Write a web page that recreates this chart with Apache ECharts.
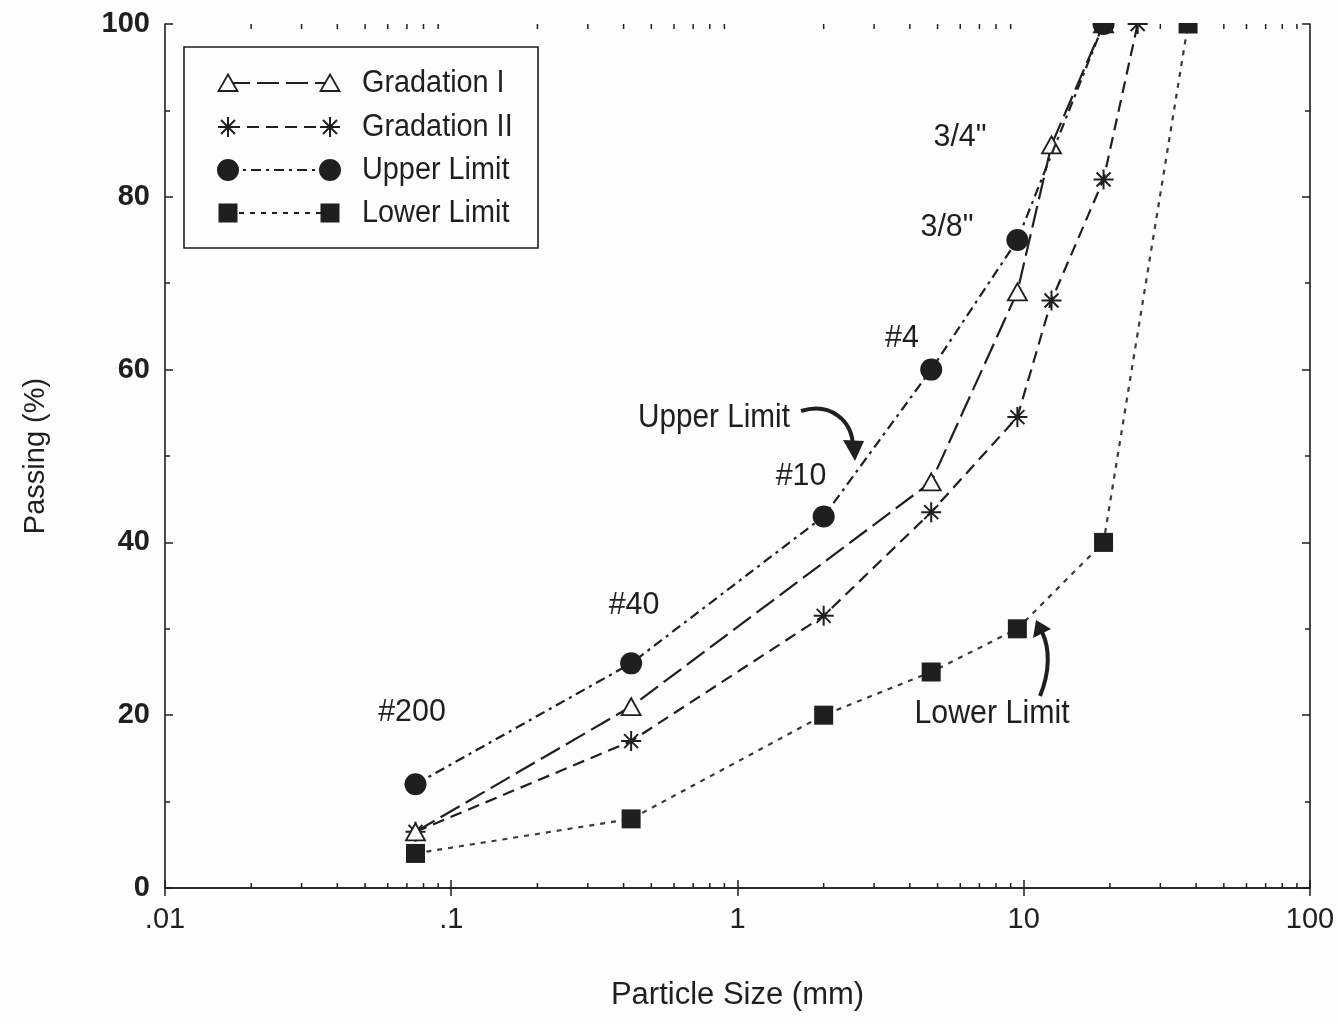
<!DOCTYPE html>
<html>
<head>
<meta charset="utf-8">
<title>Gradation Curves</title>
<script src="https://cdn.jsdelivr.net/npm/echarts@6/dist/echarts.min.js"></script>
<style>
  html, body { margin: 0; padding: 0; background: #fdfdfb; }
  #chart { width: 1338px; height: 1023px; }
</style>
</head>
<body>
<div id="chart"></div>
<script>
// Sieve sizes (mm) and percent passing for each curve
const gradIx = [0.075, 0.425, 4.75, 9.5, 12.5, 19];
const gradIy = [6.5, 21, 47, 69, 86, 100];

const gradIIx = [0.075, 0.425, 2, 4.75, 9.5, 12.5, 19, 25];
const gradIIy = [6.5, 17, 31.5, 43.5, 54.5, 68, 82, 100];

const upperX = [0.075, 0.425, 2, 4.75, 9.5, 19];
const upperY = [12, 26, 43, 60, 75, 100];

const lowerX = [0.075, 0.425, 2, 4.75, 9.5, 19, 37.5];
const lowerY = [4, 8, 20, 25, 30, 40, 100];

// Legend / series names
const seriesNames = ['Gradation I', 'Gradation II', 'Upper Limit', 'Lower Limit'];

// Sieve designations written beside the upper limit curve
const sieveLabels = ['#200', '#40', '#10', '#4', '3/8"', '3/4"'];

// Axis tick labels
const xTickLabels = { 0.01: '.01', 0.1: '.1', 1: '1', 10: '10', 100: '100' };

const FONT = '"Liberation Sans Narrow", "Liberation Sans", Arial, sans-serif';
const INK = '#1f1f1f';
const PAPER = '#fdfdfb';

const dashI = [22, 7];
const dashII = [12, 7];
const dashUpper = [10, 5, 3, 5];
const dashLower = [5, 6];
const asteriskPath = 'path://M10,0L10,20M0,10L20,10M3,3L17,17M3,17L17,3';

const pairs = (xs, ys) => xs.map((x, i) => [x, ys[i]]);

// Minor log ticks 2..9 in each decade
const minorTickValues = [];
[0.01, 0.1, 1, 10].forEach(d => {
  for (let k = 2; k <= 9; k++) minorTickValues.push([+(d * k).toPrecision(6), 0]);
});

const chart = echarts.init(document.getElementById('chart'), null, { renderer: 'canvas' });

const logAxisBase = {
  type: 'log', logBase: 10, min: 0.01, max: 100,
  axisLine: { show: true, lineStyle: { color: INK, width: 1.6 } },
  axisTick: { show: true, inside: true, length: 8, lineStyle: { color: INK, width: 1.5 } },
  splitLine: { show: false }
};
const valAxisBase = {
  type: 'value', min: 0, max: 100, interval: 20,
  axisLine: { show: true, lineStyle: { color: INK, width: 1.6 } },
  axisTick: { show: true, inside: true, length: 8, lineStyle: { color: INK, width: 1.5 } },
  minorTick: { show: true, splitNumber: 2, length: 5, lineStyle: { color: INK, width: 1.5 } },
  splitLine: { show: false }
};

const option = {
  backgroundColor: PAPER,
  animation: false,
  grid: { left: 165, right: 28, top: 24, bottom: 135 },
  xAxis: [
    Object.assign({}, logAxisBase, {
      position: 'bottom',
      name: 'Particle Size (mm)',
      nameLocation: 'middle',
      nameGap: 92,
      nameTextStyle: { fontFamily: FONT, fontSize: 31, color: INK },
      axisLabel: {
        margin: 17, fontFamily: FONT, fontSize: 29, color: INK,
        formatter: v => {
          const key = +(+v).toPrecision(6);
          return xTickLabels[key] !== undefined ? xTickLabels[key] : '';
        }
      }
    }),
    Object.assign({}, logAxisBase, { position: 'top', axisLabel: { show: false } })
  ],
  yAxis: [
    Object.assign({}, valAxisBase, {
      position: 'left',
      name: 'Passing (%)',
      nameLocation: 'middle',
      nameGap: 115,
      nameTextStyle: { fontFamily: FONT, fontSize: 29, color: INK },
      axisLabel: { margin: 15, fontFamily: FONT, fontWeight: 'bold', fontSize: 29, color: INK }
    }),
    Object.assign({}, valAxisBase, { position: 'right', axisLabel: { show: false } })
  ],
  series: [
    {
      name: 'minorTicks', type: 'custom', xAxisIndex: 0, yAxisIndex: 0,
      silent: true, z: 1, data: minorTickValues,
      renderItem: (params, api) => {
        const v = api.value(0);
        const b = api.coord([v, 0]);
        const t = api.coord([v, 100]);
        const st = { stroke: INK, lineWidth: 1.5 };
        return {
          type: 'group',
          children: [
            { type: 'line', shape: { x1: b[0], y1: b[1], x2: b[0], y2: b[1] - 5 }, style: st },
            { type: 'line', shape: { x1: t[0], y1: t[1], x2: t[0], y2: t[1] + 5 }, style: st }
          ]
        };
      }
    },
    {
      name: seriesNames[3], type: 'line', data: pairs(lowerX, lowerY),
      symbol: 'rect', symbolSize: 19, z: 3,
      itemStyle: { color: INK },
      lineStyle: { color: '#3a3a3a', width: 2.2, type: dashLower }
    },
    {
      name: seriesNames[1], type: 'line', data: pairs(gradIIx, gradIIy),
      symbol: asteriskPath, symbolSize: 20, symbolKeepAspect: true, z: 4,
      itemStyle: { color: 'rgba(0,0,0,0)', borderColor: INK, borderWidth: 2 },
      lineStyle: { color: INK, width: 2.2, type: dashII }
    },
    {
      name: seriesNames[0], type: 'line', data: pairs(gradIx, gradIy),
      symbol: 'triangle', symbolSize: [19, 17], z: 5,
      itemStyle: { color: PAPER, borderColor: INK, borderWidth: 1.8 },
      lineStyle: { color: INK, width: 2.2, type: dashI }
    },
    {
      name: seriesNames[2], type: 'line', data: pairs(upperX, upperY),
      symbol: 'circle', symbolSize: 22, z: 6,
      itemStyle: { color: INK },
      lineStyle: { color: INK, width: 2.2, type: dashUpper }
    }
  ]
};

chart.setOption(option);

// Text element compressed horizontally to get a narrow typeface look
function narrowText(text, x, y, size, squeeze, align) {
  return {
    type: 'text', z: 102, x: x, y: y, scaleX: squeeze,
    style: { text: text, x: 0, y: 0, fontFamily: FONT, fontSize: size, fill: INK,
      align: align, verticalAlign: 'middle' }
  };
}

// Legend row: dashed sample line with a marker at each end, then the name
function legendRow(y, idx) {
  const x1 = 228, x2 = 330;
  const els = [];
  const dashes = [dashI, dashII, dashUpper, dashLower];
  els.push({ type: 'line', shape: { x1: x1, y1: y, x2: x2, y2: y },
    style: { stroke: INK, lineWidth: 2.2, lineDash: dashes[idx] }, z: 101 });
  [x1, x2].forEach(cx => {
    if (idx === 0) {
      els.push({ type: 'polygon', shape: { points: [[cx, y - 8.5], [cx + 9.5, y + 8], [cx - 9.5, y + 8]] },
        style: { fill: PAPER, stroke: INK, lineWidth: 1.8 }, z: 102 });
    } else if (idx === 1) {
      const r = 10, d = 7;
      [[0, -r, 0, r], [-r, 0, r, 0], [-d, -d, d, d], [-d, d, d, -d]].forEach(s => {
        els.push({ type: 'line', shape: { x1: cx + s[0], y1: y + s[1], x2: cx + s[2], y2: y + s[3] },
          style: { stroke: INK, lineWidth: 2 }, z: 102 });
      });
    } else if (idx === 2) {
      els.push({ type: 'circle', shape: { cx: cx, cy: y, r: 11 }, style: { fill: INK }, z: 102 });
    } else {
      els.push({ type: 'rect', shape: { x: cx - 9.5, y: y - 9.5, width: 19, height: 19 }, style: { fill: INK }, z: 102 });
    }
  });
  els.push(narrowText(seriesNames[idx], 362, y, 31, 0.93, 'left'));
  return els;
}

const labelPos = [[412, 712], [634, 605], [801, 476], [902, 338], [947, 227], [960, 137]];

const graphics = [
  // mask above the plot frame so markers sitting on 100 % show only their lower half
  { type: 'rect', z: 100, shape: { x: 166, y: 0, width: 1143, height: 23 }, style: { fill: PAPER } },
  // legend frame
  { type: 'rect', z: 100, shape: { x: 184, y: 47, width: 354, height: 201 },
    style: { fill: PAPER, stroke: INK, lineWidth: 1.6 } }
];
[0, 1, 2, 3].forEach((i, k) => graphics.push(...legendRow([83, 127, 170, 213][k], i)));

sieveLabels.forEach((t, i) => {
  graphics.push(narrowText(t, labelPos[i][0], labelPos[i][1], 32, 0.95, 'center'));
});

graphics.push(
  narrowText('Upper Limit', 714, 418, 33, 0.9, 'center'),
  narrowText('Lower Limit', 992, 714, 33, 0.92, 'center'),
  // curved arrow toward the upper limit curve
  { type: 'bezierCurve', z: 102, shape: { x1: 801, y1: 411, cpx1: 830, cpy1: 402, cpx2: 852, cpy2: 420, x2: 853, y2: 446 },
    style: { stroke: INK, lineWidth: 4, fill: null } },
  { type: 'polygon', z: 102, shape: { points: [[855, 461], [843, 440], [864, 441]] }, style: { fill: INK } },
  // curved arrow toward the lower limit curve
  { type: 'bezierCurve', z: 102, shape: { x1: 1040, y1: 696, cpx1: 1050, cpy1: 672, cpx2: 1050, cpy2: 648, x2: 1042, y2: 632 },
    style: { stroke: INK, lineWidth: 4, fill: null } },
  { type: 'polygon', z: 102, shape: { points: [[1036, 620], [1033, 638], [1051, 629]] }, style: { fill: INK } }
);

chart.setOption({ graphic: graphics });
</script>
</body>
</html>
